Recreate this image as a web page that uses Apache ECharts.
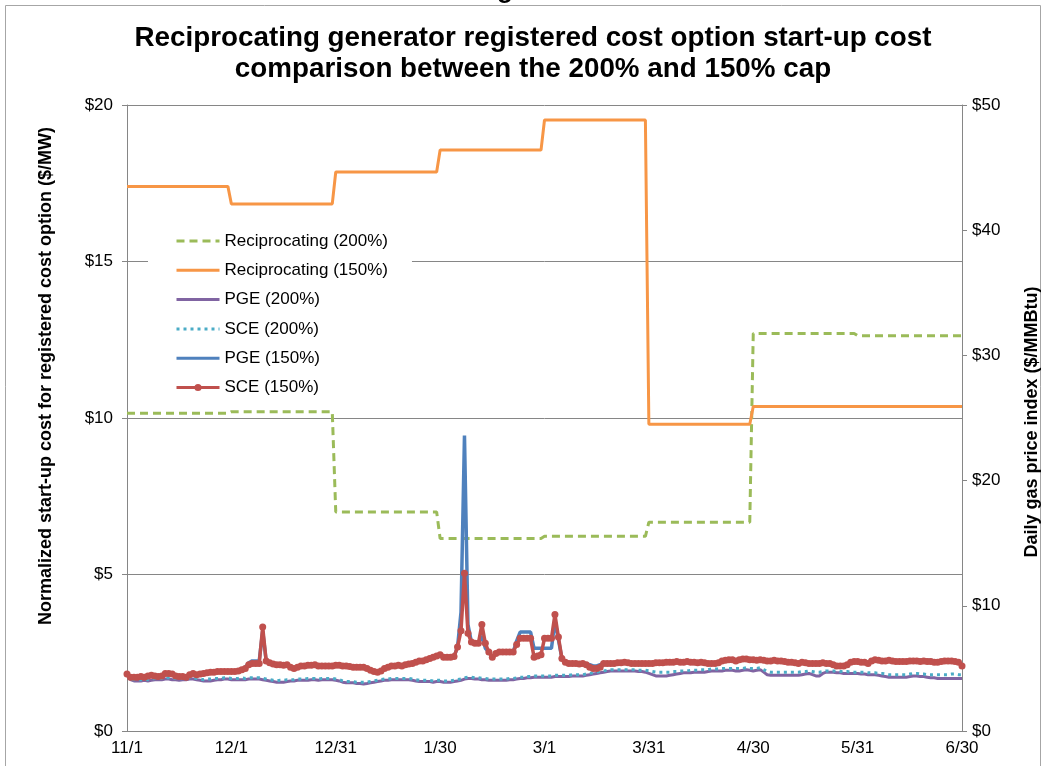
<!DOCTYPE html>
<html>
<head>
<meta charset="utf-8">
<script src="https://cdn.jsdelivr.net/npm/echarts@6/dist/echarts.min.js"></script>
<style>
html,body{margin:0;padding:0;background:#fff;}
#chart{width:1045px;height:766px;}
</style>
</head>
<body>
<div id="chart"></div>
<script>
// x-axis tick labels (one every 30 daily categories)
var tickLabels = ['11/1','12/1','12/31','1/30','3/1','3/31','4/30','5/31','6/30'];
var tickEvery = 30;
var dayCount = 241;

// Start-up cost, $/MW (left axis)
var recip200 = [
  10.15,10.15,10.15,10.15,10.15,10.15,10.15,10.15,10.15,10.15,10.15,10.15,10.15,10.15,10.15,10.15,10.15,10.15,10.15,10.15,10.15,10.15,10.15,10.15,10.15,10.15,10.15,10.15,10.15,10.15,
  10.2,10.2,10.2,10.2,10.2,10.2,10.2,10.2,10.2,10.2,10.2,10.2,10.2,10.2,10.2,10.2,10.2,10.2,10.2,10.2,10.2,10.2,10.2,10.2,10.2,10.2,10.2,10.2,10.2,10.2,
  7.0,7.0,7.0,7.0,7.0,7.0,7.0,7.0,7.0,7.0,7.0,7.0,7.0,7.0,7.0,7.0,7.0,7.0,7.0,7.0,7.0,7.0,7.0,7.0,7.0,7.0,7.0,7.0,7.0,7.0,
  6.15,6.15,6.15,6.15,6.15,6.15,6.15,6.15,6.15,6.15,6.15,6.15,6.15,6.15,6.15,6.15,6.15,6.15,6.15,6.15,6.15,6.15,6.15,6.15,6.15,6.15,6.15,6.15,6.15,6.15,
  6.22,6.22,6.22,6.22,6.22,6.22,6.22,6.22,6.22,6.22,6.22,6.22,6.22,6.22,6.22,6.22,6.22,6.22,6.22,6.22,6.22,6.22,6.22,6.22,6.22,6.22,6.22,6.22,6.22,6.22,
  6.67,6.67,6.67,6.67,6.67,6.67,6.67,6.67,6.67,6.67,6.67,6.67,6.67,6.67,6.67,6.67,6.67,6.67,6.67,6.67,6.67,6.67,6.67,6.67,6.67,6.67,6.67,6.67,6.67,6.67,
  12.7,12.7,12.7,12.7,12.7,12.7,12.7,12.7,12.7,12.7,12.7,12.7,12.7,12.7,12.7,12.7,12.7,12.7,12.7,12.7,12.7,12.7,12.7,12.7,12.7,12.7,12.7,12.7,12.7,12.7,
  12.63,12.63,12.63,12.63,12.63,12.63,12.63,12.63,12.63,12.63,12.63,12.63,12.63,12.63,12.63,12.63,12.63,12.63,12.63,12.63,12.63,12.63,12.63,12.63,12.63,12.63,12.63,12.63,12.63,12.63,12.63
];
var recip150 = [
  17.4,17.4,17.4,17.4,17.4,17.4,17.4,17.4,17.4,17.4,17.4,17.4,17.4,17.4,17.4,17.4,17.4,17.4,17.4,17.4,17.4,17.4,17.4,17.4,17.4,17.4,17.4,17.4,17.4,17.4,
  16.84,16.84,16.84,16.84,16.84,16.84,16.84,16.84,16.84,16.84,16.84,16.84,16.84,16.84,16.84,16.84,16.84,16.84,16.84,16.84,16.84,16.84,16.84,16.84,16.84,16.84,16.84,16.84,16.84,16.84,
  17.86,17.86,17.86,17.86,17.86,17.86,17.86,17.86,17.86,17.86,17.86,17.86,17.86,17.86,17.86,17.86,17.86,17.86,17.86,17.86,17.86,17.86,17.86,17.86,17.86,17.86,17.86,17.86,17.86,17.86,
  18.56,18.56,18.56,18.56,18.56,18.56,18.56,18.56,18.56,18.56,18.56,18.56,18.56,18.56,18.56,18.56,18.56,18.56,18.56,18.56,18.56,18.56,18.56,18.56,18.56,18.56,18.56,18.56,18.56,18.56,
  19.52,19.52,19.52,19.52,19.52,19.52,19.52,19.52,19.52,19.52,19.52,19.52,19.52,19.52,19.52,19.52,19.52,19.52,19.52,19.52,19.52,19.52,19.52,19.52,19.52,19.52,19.52,19.52,19.52,19.52,
  9.8,9.8,9.8,9.8,9.8,9.8,9.8,9.8,9.8,9.8,9.8,9.8,9.8,9.8,9.8,9.8,9.8,9.8,9.8,9.8,9.8,9.8,9.8,9.8,9.8,9.8,9.8,9.8,9.8,9.8,
  10.37,10.37,10.37,10.37,10.37,10.37,10.37,10.37,10.37,10.37,10.37,10.37,10.37,10.37,10.37,10.37,10.37,10.37,10.37,10.37,10.37,10.37,10.37,10.37,10.37,10.37,10.37,10.37,10.37,10.37,
  10.37,10.37,10.37,10.37,10.37,10.37,10.37,10.37,10.37,10.37,10.37,10.37,10.37,10.37,10.37,10.37,10.37,10.37,10.37,10.37,10.37,10.37,10.37,10.37,10.37,10.37,10.37,10.37,10.37,10.37,10.37
];

// Daily gas price index, $/MMBtu (right axis)
var pge200 = [
  4.45,4.1,4.0,4.0,4.0,4.05,4.0,4.05,4.1,4.1,
  4.1,4.15,4.15,4.1,4.1,4.05,4.1,4.1,4.15,4.15,
  4.1,4.05,4.0,4.0,4.0,4.05,4.1,4.1,4.15,4.15,
  4.1,4.1,4.1,4.1,4.1,4.15,4.15,4.15,4.15,4.1,
  4.05,4.0,3.95,3.9,3.9,3.9,3.95,4.0,4.0,4.05,
  4.05,4.05,4.05,4.1,4.1,4.05,4.1,4.1,4.1,4.1,
  4.05,4.0,3.9,3.85,3.85,3.85,3.8,3.8,3.75,3.8,
  3.85,3.9,3.95,4.0,4.05,4.05,4.1,4.1,4.1,4.1,
  4.1,4.1,4.05,4.0,3.95,3.95,3.95,3.95,3.9,3.95,
  3.95,3.9,3.9,3.9,3.95,4.0,4.05,4.15,4.2,4.2,
  4.15,4.15,4.1,4.1,4.05,4.05,4.05,4.05,4.05,4.05,
  4.1,4.1,4.15,4.2,4.2,4.25,4.25,4.3,4.3,4.3,
  4.3,4.3,4.3,4.35,4.35,4.35,4.35,4.35,4.4,4.4,
  4.4,4.4,4.45,4.5,4.55,4.6,4.65,4.7,4.75,4.8,
  4.8,4.8,4.8,4.8,4.8,4.8,4.8,4.75,4.75,4.7,
  4.6,4.5,4.4,4.4,4.4,4.4,4.45,4.5,4.55,4.6,
  4.65,4.65,4.65,4.7,4.7,4.7,4.7,4.75,4.8,4.8,
  4.8,4.8,4.85,4.85,4.85,4.8,4.8,4.85,4.9,4.85,
  4.8,4.85,4.9,4.7,4.5,4.45,4.45,4.45,4.45,4.45,
  4.45,4.45,4.45,4.45,4.5,4.55,4.6,4.5,4.4,4.4,
  4.6,4.7,4.7,4.7,4.65,4.65,4.6,4.6,4.6,4.6,
  4.6,4.55,4.55,4.5,4.5,4.5,4.45,4.4,4.35,4.3,
  4.3,4.3,4.3,4.3,4.3,4.35,4.4,4.4,4.35,4.35,
  4.3,4.25,4.25,4.2,4.2,4.2,4.2,4.2,4.2,4.2,4.2
];
var sce200 = [
  4.5,4.15,4.1,4.1,4.1,4.15,4.1,4.15,4.2,4.2,
  4.2,4.25,4.25,4.2,4.2,4.15,4.2,4.2,4.25,4.25,
  4.2,4.15,4.1,4.15,4.15,4.2,4.2,4.2,4.25,4.25,
  4.2,4.2,4.2,4.25,4.2,4.25,4.25,4.25,4.25,4.2,
  4.15,4.1,4.05,4.0,4.05,4.05,4.1,4.1,4.1,4.15,
  4.15,4.15,4.2,4.2,4.2,4.15,4.2,4.2,4.2,4.2,
  4.15,4.1,4.0,3.95,3.95,3.95,3.9,3.9,3.9,3.9,
  3.95,4.0,4.05,4.1,4.15,4.15,4.2,4.2,4.2,4.2,
  4.2,4.2,4.15,4.1,4.05,4.05,4.05,4.05,4.0,4.05,
  4.05,4.0,4.0,4.0,4.05,4.1,4.15,4.25,4.3,4.3,
  4.25,4.25,4.2,4.2,4.15,4.15,4.15,4.15,4.15,4.15,
  4.2,4.2,4.25,4.3,4.3,4.35,4.35,4.4,4.4,4.4,
  4.4,4.4,4.4,4.45,4.45,4.45,4.45,4.45,4.5,4.5,
  4.5,4.5,4.55,4.6,4.65,4.7,4.75,4.8,4.85,4.9,
  4.9,4.9,4.9,4.9,4.9,4.9,4.9,4.85,4.85,4.85,
  4.8,4.75,4.7,4.7,4.7,4.7,4.7,4.75,4.75,4.8,
  4.8,4.8,4.85,4.85,4.85,4.9,4.9,4.9,4.95,4.95,
  4.95,5.0,5.0,5.0,5.0,5.0,5.0,5.0,5.05,5.0,
  5.0,5.0,5.05,4.9,4.75,4.7,4.7,4.7,4.7,4.7,
  4.7,4.7,4.7,4.7,4.75,4.75,4.8,4.75,4.7,4.7,
  4.75,4.8,4.8,4.8,4.8,4.75,4.75,4.75,4.7,4.7,
  4.7,4.7,4.7,4.65,4.65,4.65,4.6,4.6,4.55,4.5,
  4.5,4.5,4.5,4.5,4.5,4.55,4.6,4.6,4.55,4.55,
  4.5,4.5,4.5,4.5,4.5,4.5,4.5,4.55,4.55,4.5,4.5
];
var pge150 = [
  4.55,4.3,4.3,4.3,4.35,4.3,4.4,4.45,4.4,4.35,
  4.4,4.6,4.6,4.55,4.4,4.35,4.35,4.3,4.5,4.6,
  4.5,4.55,4.6,4.65,4.7,4.7,4.75,4.75,4.75,4.75,
  4.75,4.75,4.8,4.9,5.1,5.45,5.6,5.6,5.6,8.0,
  5.6,5.45,5.35,5.3,5.3,5.25,5.3,5.1,5.0,5.1,
  5.2,5.2,5.25,5.25,5.3,5.2,5.2,5.2,5.15,5.15,
  5.2,5.2,5.2,5.2,5.15,5.1,5.1,5.1,5.1,5.0,
  4.85,4.75,4.7,4.8,5.0,5.1,5.2,5.2,5.25,5.2,
  5.3,5.35,5.4,5.5,5.6,5.6,5.7,5.8,5.9,6.0,
  6.1,5.9,5.9,5.9,5.95,6.7,9.5,23.6,8.5,7.1,
  7.0,7.0,7.6,6.6,6.3,5.9,6.2,6.3,6.3,6.3,
  6.3,6.3,7.2,7.9,7.9,7.9,7.9,6.6,6.6,6.6,
  6.6,6.6,6.6,8.8,7.3,5.8,5.5,5.4,5.4,5.4,
  5.35,5.4,5.35,5.3,5.2,5.2,5.3,5.4,5.4,5.4,
  5.4,5.45,5.45,5.5,5.45,5.4,5.4,5.4,5.4,5.4,
  5.4,5.4,5.45,5.45,5.45,5.5,5.5,5.5,5.55,5.5,
  5.5,5.55,5.5,5.5,5.45,5.5,5.45,5.4,5.4,5.4,
  5.45,5.6,5.65,5.7,5.7,5.6,5.7,5.75,5.75,5.7,
  5.7,5.65,5.7,5.65,5.6,5.6,5.65,5.6,5.6,5.55,
  5.5,5.5,5.45,5.4,5.5,5.45,5.4,5.4,5.4,5.4,
  5.45,5.4,5.4,5.3,5.2,5.2,5.2,5.3,5.5,5.55,
  5.55,5.5,5.5,5.4,5.6,5.7,5.65,5.6,5.6,5.65,
  5.65,5.6,5.6,5.6,5.6,5.7,5.7,5.7,5.65,5.65,
  5.65,5.65,5.6,5.5,5.55,5.6,5.6,5.6,5.55,5.5,5.2
];
var sce150 = [
  4.55,4.3,4.3,4.3,4.35,4.3,4.4,4.45,4.4,4.35,
  4.4,4.6,4.6,4.55,4.4,4.35,4.35,4.3,4.5,4.6,
  4.5,4.55,4.6,4.65,4.7,4.7,4.75,4.75,4.75,4.75,
  4.75,4.75,4.8,4.9,5.0,5.3,5.4,5.4,5.4,8.3,
  5.6,5.45,5.35,5.3,5.3,5.25,5.3,5.1,5.0,5.1,
  5.2,5.2,5.25,5.25,5.3,5.2,5.2,5.2,5.2,5.2,
  5.25,5.25,5.2,5.2,5.15,5.1,5.1,5.1,5.1,5.0,
  4.85,4.75,4.7,4.8,5.0,5.1,5.2,5.2,5.25,5.2,
  5.3,5.35,5.4,5.5,5.6,5.6,5.7,5.8,5.9,6.0,
  6.1,5.9,5.9,5.9,5.95,6.7,8.0,12.6,7.8,7.1,
  7.0,7.0,8.5,7.0,6.3,5.9,6.2,6.3,6.3,6.3,
  6.3,6.3,6.9,7.4,7.4,7.4,7.4,5.9,6.0,6.1,
  7.4,7.4,7.4,9.3,7.5,5.8,5.5,5.4,5.4,5.4,
  5.35,5.4,5.3,5.1,5.0,5.0,5.1,5.4,5.4,5.4,
  5.4,5.45,5.45,5.5,5.45,5.4,5.4,5.4,5.4,5.4,
  5.4,5.4,5.45,5.45,5.45,5.5,5.5,5.5,5.55,5.5,
  5.5,5.55,5.5,5.5,5.45,5.5,5.45,5.4,5.4,5.4,
  5.45,5.6,5.65,5.7,5.7,5.6,5.7,5.75,5.75,5.7,
  5.7,5.65,5.7,5.65,5.6,5.6,5.65,5.6,5.6,5.55,
  5.5,5.5,5.45,5.4,5.5,5.45,5.4,5.4,5.4,5.4,
  5.45,5.4,5.4,5.3,5.2,5.2,5.2,5.3,5.5,5.55,
  5.55,5.5,5.5,5.4,5.6,5.7,5.65,5.6,5.6,5.65,
  5.6,5.55,5.55,5.55,5.55,5.6,5.6,5.6,5.55,5.6,
  5.55,5.55,5.5,5.5,5.55,5.6,5.6,5.6,5.55,5.5,5.2
];

var categories = [];
for (var i = 0; i < dayCount; i++) categories.push(String(i));

var FONT = '"Liberation Sans", Arial, sans-serif';
var chart = echarts.init(document.getElementById('chart'), null, {renderer: 'canvas'});

function lineSeries(name, data, color, axis, dash, width, extra) {
  var s = {
    name: name, type: 'line', data: data, yAxisIndex: axis,
    symbol: 'none', showSymbol: false, smooth: false,
    lineStyle: {color: color, width: width || 3, type: dash || 'solid', cap: 'butt'},
    itemStyle: {color: color},
    emphasis: {disabled: true}
  };
  if (extra) for (var k in extra) s[k] = extra[k];
  return s;
}
var noMark = {color: 'rgba(0,0,0,0)', borderWidth: 0, borderColor: 'rgba(0,0,0,0)'};

chart.setOption({
  animation: false,
  backgroundColor: '#fff',
  textStyle: {fontFamily: FONT},
  title: {
    text: 'Reciprocating generator registered cost option start-up cost\ncomparison between the 200% and 150% cap',
    left: 528, textAlign: 'center', top: 18,
    textStyle: {fontFamily: FONT, fontSize: 27.8, fontWeight: 'bold', color: '#000', lineHeight: 31}
  },
  graphic: [
    {type: 'rect', shape: {x: 5.5, y: 5.5, width: 1035, height: 800}, style: {fill: 'none', stroke: '#a6a6a6', lineWidth: 1}, silent: true, z: -1},
    {type: 'text', left: 497, top: -22, style: {text: 'g', font: 'bold 26px ' + FONT, fill: '#000'}, silent: true},
    {type: 'text', x: 46, y: 376, rotation: Math.PI / 2,
     style: {text: 'Normalized start-up cost for registered cost option ($/MW)', font: 'bold 18px ' + FONT, fill: '#000', align: 'center', verticalAlign: 'middle'}},
    {type: 'text', x: 1032, y: 422, rotation: Math.PI / 2,
     style: {text: 'Daily gas price index ($/MMBtu)', font: 'bold 18px ' + FONT, fill: '#000', align: 'center', verticalAlign: 'middle'}}
  ],
  legend: {
    orient: 'vertical', left: 148, top: 228,
    padding: [4, 24, 4, 27],
    backgroundColor: '#fff',
    itemWidth: 43, itemHeight: 9, itemGap: 11.3,
    lineStyle: {width: 3},
    textStyle: {fontFamily: FONT, fontSize: 17, color: '#000', lineHeight: 18},
    data: [
      {name: 'Reciprocating (200%)', itemStyle: noMark},
      {name: 'Reciprocating (150%)', itemStyle: noMark},
      {name: 'PGE (200%)', itemStyle: noMark},
      {name: 'SCE (200%)', itemStyle: noMark},
      {name: 'PGE (150%)', itemStyle: noMark},
      {name: 'SCE (150%)'}
    ],
    z: 3
  },
  grid: {left: 127, right: 83, top: 105, bottom: 35, containLabel: false},
  xAxis: {
    type: 'category', data: categories, boundaryGap: false,
    axisLine: {show: true, lineStyle: {color: '#868686', width: 1}},
    axisTick: {show: false},
    axisLabel: {
      interval: function (idx) { return idx % tickEvery === 0; },
      formatter: function (v, idx) { return tickLabels[idx / tickEvery] || ''; },
      fontFamily: FONT, fontSize: 17, color: '#000', margin: 9
    },
    splitLine: {show: false}
  },
  yAxis: [
    {
      type: 'value', min: 0, max: 20, interval: 5, position: 'left',
      axisLine: {show: true, lineStyle: {color: '#868686'}},
      axisTick: {show: true, length: 5, lineStyle: {color: '#868686'}},
      axisLabel: {formatter: function (v) { return '$' + v; }, fontFamily: FONT, fontSize: 17, color: '#000', margin: 14},
      splitLine: {show: true, lineStyle: {color: '#868686', width: 1}}
    },
    {
      type: 'value', min: 0, max: 50, interval: 10, position: 'right',
      axisLine: {show: true, lineStyle: {color: '#868686'}},
      axisTick: {show: true, length: 5, lineStyle: {color: '#868686'}},
      axisLabel: {formatter: function (v) { return '$' + v; }, fontFamily: FONT, fontSize: 17, color: '#000', margin: 10},
      splitLine: {show: false}
    }
  ],
  series: [
    lineSeries('Reciprocating (200%)', recip200, '#9BBB59', 0, [8, 5], 3),
    lineSeries('Reciprocating (150%)', recip150, '#F79646', 0, 'solid', 3),
    lineSeries('PGE (200%)', pge200, '#8064A2', 1, 'solid', 3),
    lineSeries('SCE (200%)', sce200, '#4BACC6', 1, [3, 4], 3),
    lineSeries('PGE (150%)', pge150, '#4F81BD', 1, 'solid', 3.5),
    lineSeries('SCE (150%)', sce150, '#C0504D', 1, 'solid', 3.5, {
      symbol: 'circle', symbolSize: 7, showSymbol: true, showAllSymbol: true
    })
  ]
});
</script>
</body>
</html>
